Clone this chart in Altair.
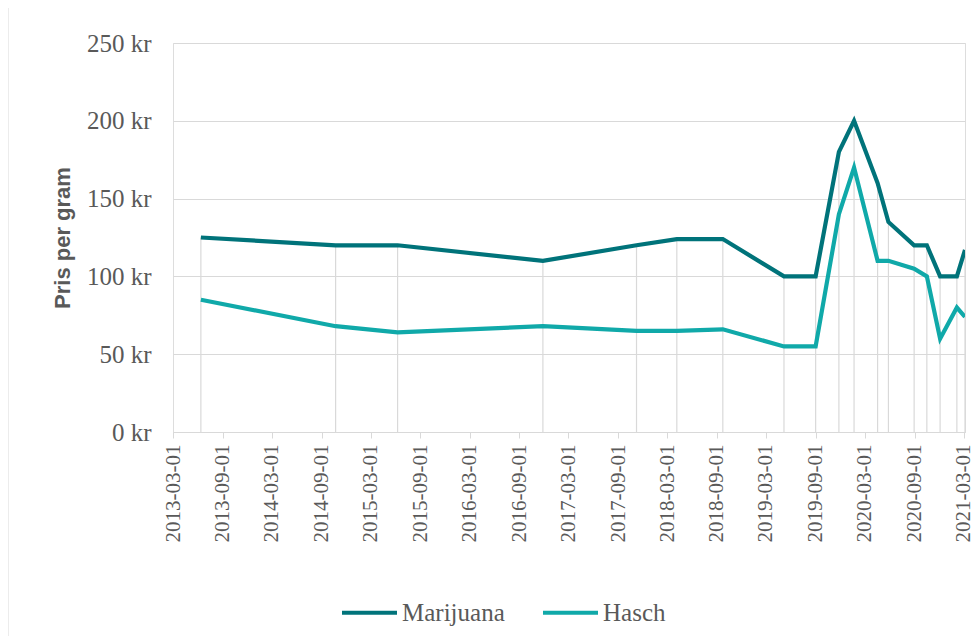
import altair as alt
import pandas as pd

dates = ["2013-06-12", "2014-10-23", "2015-06-09", "2016-11-27", "2017-11-08",
         "2018-04-06", "2018-09-23", "2019-05-07", "2019-09-01", "2019-11-26",
         "2020-01-21", "2020-04-17", "2020-05-27", "2020-08-30", "2020-10-16",
         "2020-12-04", "2021-02-04", "2021-03-06"]
marijuana = [125, 120, 120, 110, 120, 124, 124, 100, 100, 180,
             200, 160, 135, 120, 120, 100, 100, 117]
hasch = [85, 68, 64, 68, 65, 65, 66, 55, 55, 140,
         170, 110, 110, 105, 100, 60, 80, 74]
tick_dates = ["2013-03-01", "2013-09-01", "2014-03-01", "2014-09-01", "2015-03-01",
              "2015-09-01", "2016-03-01", "2016-09-01", "2017-03-01", "2017-09-01",
              "2018-03-01", "2018-09-01", "2019-03-01", "2019-09-01", "2020-03-01",
              "2020-09-01", "2021-03-01"]
series_names = ["Marijuana", "Hasch"]
series_colors = ["#00737A", "#10A9A9"]
y_ticks = [0, 50, 100, 150, 200, 250]


def ms(d):
    return int(pd.Timestamp(d, tz="UTC").timestamp() * 1000)


wide = pd.DataFrame({"date": [ms(d) for d in dates], "Marijuana": marijuana, "Hasch": hasch})
wide["top"] = wide[["Marijuana", "Hasch"]].max(axis=1)
long = wide.melt(id_vars=["date"], value_vars=series_names, var_name="serie", value_name="pris")

grey = "#595959"
gridc = "#D9D9D9"
serif = "'Liberation Serif', 'Times New Roman', serif"

x_scale = alt.Scale(type="utc", domain=[ms("2013-03-01"), ms("2021-03-06")], nice=False)
y_scale = alt.Scale(domain=[0, 250], nice=False)

x_axis = alt.Axis(values=[ms(d) for d in tick_dates],
                  labelExpr="utcFormat(datum.value, '%Y-%m-%d')",
                  labelAngle=270, labelAlign="right", labelBaseline="middle",
                  labelFont=serif, labelFontSize=21, labelColor=grey,
                  labelPadding=6, tickColor=gridc, tickSize=6, domainColor=gridc,
                  grid=False, title=None, labelOverlap=False, labelBound=False)
y_axis = alt.Axis(values=y_ticks, labelExpr="datum.value + ' kr'", grid=True, gridColor=gridc,
                  domain=False, ticks=False, labelFont=serif, labelFontSize=25,
                  labelColor=grey, labelPadding=22, title="Pris per gram",
                  titleFont="Liberation Sans", titleFontWeight="bold", titleFontSize=22,
                  titleColor=grey, titlePadding=12)

base_grid = alt.Chart(wide).mark_rule(color=gridc, strokeWidth=1.2).encode(
    x=alt.X("date:T", scale=x_scale, axis=x_axis),
    y=alt.Y("top:Q", scale=y_scale, axis=y_axis),
    y2=alt.datum(0),
)

lines = alt.Chart(long).mark_line(strokeWidth=4.2, strokeJoin="miter", clip=True).encode(
    x=alt.X("date:T", scale=x_scale, axis=x_axis),
    y=alt.Y("pris:Q", scale=y_scale, axis=y_axis),
    color=alt.Color("serie:N", scale=alt.Scale(domain=series_names, range=series_colors),
                    sort=series_names,
                    legend=alt.Legend(title=None, orient="none", direction="horizontal",
                                      legendX=167, legendY=540, symbolType="stroke",
                                      symbolSize=3025, symbolStrokeWidth=4,
                                      labelFont=serif, labelFontSize=25,
                                      labelColor=grey, labelOffset=3, columnPadding=30,
                                      symbolLimit=0)),
)

border = alt.Chart(pd.DataFrame({"a": [0]})).mark_rule(color=gridc, strokeWidth=1).encode(
    x=alt.value(-165), y=alt.value(-35), y2=alt.value(600)
)

chart = alt.layer(border, base_grid, lines).properties(
    width=792, height=389,
    autosize=alt.AutoSizeParams(type="none"),
    padding={"left": 165, "top": 35, "right": 6, "bottom": 204},
).configure_view(stroke=None).configure(background="white").configure_axisX(
    labelFont=serif, labelFontSize=21
).configure_legend(labelFont=serif)

chart.save("out.html", embed_options={"renderer": "svg", "actions": False})
